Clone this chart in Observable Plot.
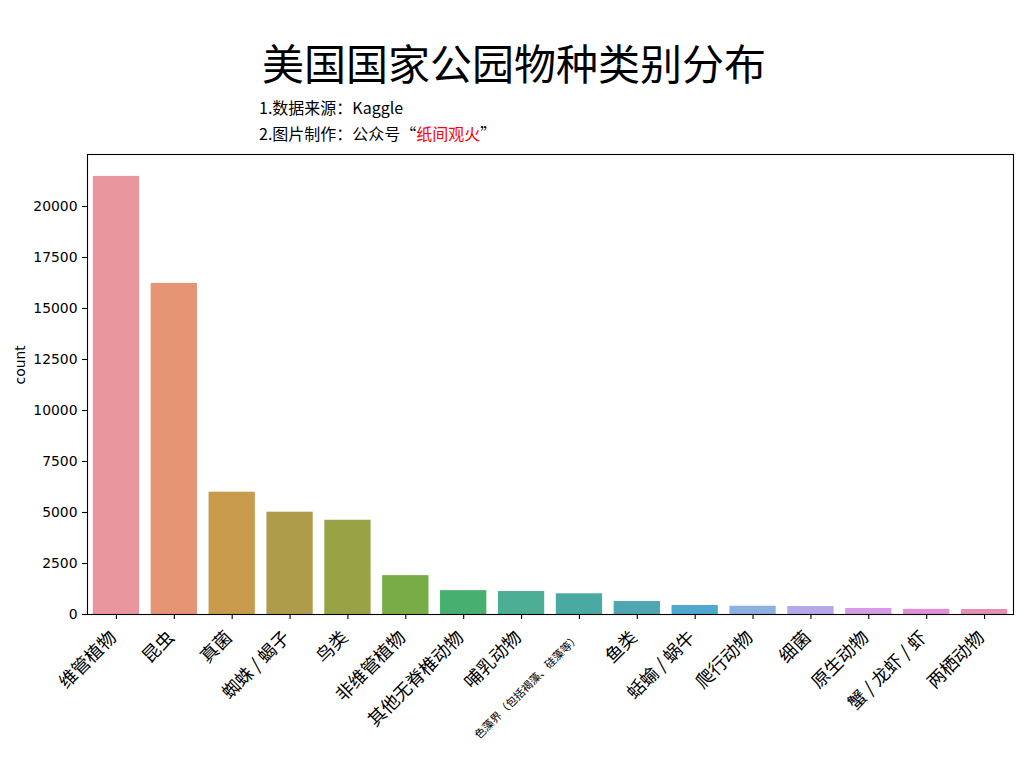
<!DOCTYPE html>
<html><head><meta charset="utf-8">
<script src="https://cdn.jsdelivr.net/npm/d3@7"></script>
<script src="https://cdn.jsdelivr.net/npm/@observablehq/plot@0.6"></script>
<style>
body{margin:0;background:#fff;width:1024px;height:768px;overflow:hidden;font-family:"Noto Sans CJK SC",sans-serif}
#header{position:relative;height:140px}
#title{position:absolute;left:2px;width:1024px;top:37px;text-align:center;font-size:42px;line-height:50px;color:#000;white-space:nowrap}
.sub{position:absolute;left:259px;font-size:16px;line-height:20px;color:#000;white-space:nowrap}
#chart svg{display:block}
</style></head><body>
<div id="header">
<div id="title">美国国家公园物种类别分布</div>
<div class="sub" style="top:97px">1.数据来源：Kaggle</div>
<div class="sub" style="top:123px">2.图片制作：公众号“<span style="color:#f00">纸间观火</span>”</div>
</div>
<div id="chart"></div>
<script>
const categories = ["维管植物","昆虫","真菌","蜘蛛 / 蝎子","鸟类","非维管植物","其他无脊椎动物","哺乳动物","色藻界（包括褐藻、硅藻等）","鱼类","蛞蝓 / 蜗牛","爬行动物","细菌","原生动物","蟹 / 龙虾 / 虾","两栖动物"];
const counts = [21475, 16230, 5995, 5015, 4620, 1905, 1170, 1125, 1015, 635, 440, 405, 390, 295, 250, 245];
const colors = ["#e9969f","#e69574","#c89a4c","#ae9c4b","#98a346","#77ac46","#47b070","#4bae95","#49aaa3","#4ea6b2","#4fa8d0","#8bb0e2","#b6a6ea","#d79be7","#e58dd9","#e48fb3"];
const yTicks = [0, 2500, 5000, 7500, 10000, 12500, 15000, 17500, 20000];
const yLabel = "count";

const data = categories.map((name, i) => ({name, count: counts[i]}));
const yMax = d3.max(counts) * 1.05;

const chart = Plot.plot({
  width: 1024, height: 628,
  marginTop: 14, marginBottom: 154, marginLeft: 87, marginRight: 11,
  style: {fontFamily: "DejaVu Sans, sans-serif", fontSize: "13.9px", color: "#000", background: "#fff", overflow: "visible"},
  x: {domain: categories, paddingInner: 0.2, paddingOuter: 0.1, round: false, axis: null},
  y: {domain: [0, yMax], axis: null},
  color: {domain: categories, range: colors},
  marks: [
    Plot.barY(data, {x: "name", y: "count", fill: "name"}),
    Plot.axisY({ticks: yTicks, tickSize: 5, tickPadding: 5, label: null, tickFormat: d => String(d), fontSize: 13.9, strokeWidth: 1.1}),
    Plot.axisX({tickSize: 5, tickFormat: () => "", label: null, strokeWidth: 1.1}),
    Plot.text(data, {x: "name", frameAnchor: "bottom", text: "name", rotate: -45, textAnchor: "end", dy: 24, dx: 1,
      fontSize: d => d.name.length > 10 ? 11 : 18, fontFamily: "Noto Sans CJK SC", fill: "#000"}),
    Plot.text([yLabel], {frameAnchor: "left", dx: -67, rotate: -90, fontSize: 13.9, fill: "#000"}),
    Plot.frame({stroke: "#000", strokeWidth: 1.1})
  ]
});
document.getElementById("chart").appendChild(chart);
</script>
</body></html>
